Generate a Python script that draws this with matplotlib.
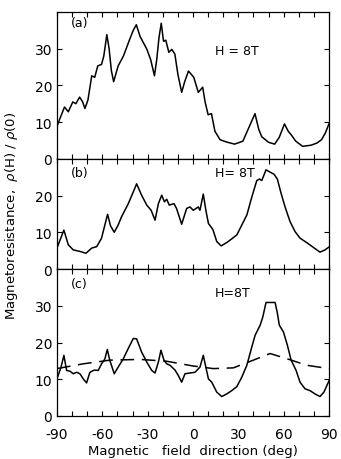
import numpy as np
import matplotlib
matplotlib.use("Agg")
import matplotlib.pyplot as plt

# panel (a)
ang_a = [-90, -88, -85, -82.5, -79.5, -77.5, -75, -73, -71.5, -69.5, -67, -65, -63, -60.5,
         -59, -57, -55.5, -54, -52.5, -49.5, -46, -42, -39.5, -37.5, -35, -30.5, -28, -25.5,
         -24, -22.5, -21, -19.5, -18, -16, -14, -12, -10, -7.5, -5.5, -3, 0.5, 3.5, 6.4, 8,
         10, 12.2, 14.5, 17.9, 22, 27.5, 33, 38, 41, 43.5, 45.5, 50, 54, 57, 60.5, 63, 65,
         68, 72.5, 78, 82, 85, 87.5, 90]
rho_a = [8.8, 11, 14.1, 12.8, 15.5, 15.0, 16.8, 15.5, 13.7, 16, 22.6, 22.2, 25.3, 25.7,
         28, 33.8, 30, 24, 21, 25.3, 28, 32.4, 35, 36.5, 33.3, 29.8, 27, 22.6,
         27, 33, 36.9, 32, 32.3, 29, 29.8, 28.5, 23, 18.1, 21, 23.9, 22.2, 18.1, 19.5, 15.5,
         12, 12.3, 7.5, 5.2, 4.6, 4.0, 4.8, 9.5, 12.3, 8, 6.0, 4.5, 4.0, 5.8, 9.5, 7.5, 6.5,
         4.8, 3.4, 3.7, 4.3, 5.2, 7, 9.6]

# panel (b)
ang_b = [-90, -85.4, -82.5, -79.2, -74.8, -70.8, -67, -63.7, -60.5, -58.3, -56.5, -54.6,
         -52.1, -49.5, -47.3, -42.8, -39.5, -37.3, -34, -30.6, -27.7, -25.1, -22.9, -20.7,
         -18.9, -17.4, -15.7, -12.6, -10.9, -7.5, -4.2, -2, 0.2, 3.5, 4.6, 6.8, 8.5, 10.2,
         13.1, 15.7, 18.6, 22.3, 25.6, 29, 32.3, 35.6, 38.9, 42.2, 44, 45.5, 48.3, 50.9,
         53.6, 55.8, 58, 60.9, 64.2, 67.5, 70.8, 75.2, 79.6, 84, 87.3, 90]
rho_b = [5.7, 10.6, 6.6, 5.2, 4.8, 4.3, 5.7, 6.1, 8.4, 12, 14.9, 11.8,
         10, 12, 14.2, 17.8, 21, 23.2, 20.1, 17.4, 16, 13.3, 17.8, 20.1,
         18.3, 19, 17.4, 17.8, 16.5, 12.2, 16.5, 16.9, 16, 16.9, 16, 20.4, 16, 12.4,
         10.8, 7.5, 6.3, 7.2, 8.2, 9.3, 12, 14.7, 19.6, 24.1, 24.5, 24.1, 27, 26.4,
         25.8, 24.5, 21, 16.9, 12.9, 10.2, 8.4, 7.2, 5.9, 4.6, 5.2, 6.0]

# panel (c), solid
ang_c = [-90, -87.3, -85.4, -83.6, -81.4, -79.2, -77, -74.8, -72.6, -70.4, -68.2, -65.3,
         -62.7, -60.5, -58.3, -56.7, -55, -52.1, -49.5, -46.2, -42.8, -39.5, -37.3, -34,
         -30.6, -27.3, -25.1, -22.9, -21.2, -19.2, -17.4, -15.2, -11.9, -9.7, -7.5, -5.3,
         -2, 1.3, 4.6, 6.8, 8.5, 10.2, 12.4, 15.7, 19, 22.3, 25.6, 29, 32.3, 35.6, 38.9,
         41.1, 44.4, 46.2, 48.3, 54.3, 55.8, 57.1, 59.8, 62.4, 64.9, 68.2, 70.8, 74.1,
         77.4, 80.7, 84, 86.6, 90]
rho_c = [10.1, 13.3, 16.5, 12.4, 12.2, 11.5, 11.9, 11.5, 10.1, 9.0, 11.9, 12.5,
         12.4, 14.2, 15.5, 18.1, 15.1, 11.5, 13.3, 15.5, 18.4, 21.1, 21, 17.4,
         14.7, 12.4, 11.7, 14.7, 17.9, 15.2, 14.2, 13.8, 12.5, 11, 9.2, 11.5,
         11.7, 11.9, 13.3, 16.5, 13.3, 10.1, 9.2, 6.5, 5.3, 6.0, 6.9, 8.0, 10.6, 13.8, 18.8,
         22, 24.7, 27, 30.9, 30.9, 28, 24.7, 22.9, 19.3, 15.2, 12.4, 9.2, 7.4,
         6.9, 6.0, 5.3, 6.5, 9.6]

# panel (c), dashed
ang_d = [-90, -72.6, -54.9, -35, -17.4, 0.2, 13.5, 26.7, 39.9, 51, 62, 75.3, 90]
rho_d = [12.9, 14.2, 15.2, 15.4, 14.9, 13.6, 12.9, 13.1, 15.2, 17, 15.6, 13.8, 12.9]

fig = plt.figure(figsize=(3.41, 4.60), dpi=100)
gs = fig.add_gridspec(3, 1, height_ratios=[40, 30, 40], hspace=0,
                      left=0.167, right=0.965, top=0.972, bottom=0.0935)
axes = [fig.add_subplot(gs[i]) for i in range(3)]

panels = [
    (ang_a, rho_a, 40, [0, 10, 20, 30], "(a)", "H = 8T"),
    (ang_b, rho_b, 30, [0, 10, 20], "(b)", "H= 8T"),
    (ang_c, rho_c, 40, [0, 10, 20, 30], "(c)", "H=8T"),
]
label_y = [0.93, 0.88, 0.90]
h_y = [0.74, 0.88, 0.84]

for i, (ax, (x, y, top, yt, tag, htxt)) in enumerate(zip(axes, panels)):
    ax.plot(x, y, color="black", lw=1.1)
    ax.set_xlim(-90, 90)
    ax.set_ylim(0, top)
    ax.set_yticks(yt)
    ax.set_xticks(np.arange(-90, 91, 10), minor=True)
    ax.set_xticks([-90, -60, -30, 0, 30, 60, 90])
    ax.tick_params(which="both", direction="in", top=True, right=True,
                   labelsize=10, length=3.5, width=0.8)
    ax.tick_params(axis="x", pad=8)
    ax.text(0.05, label_y[i], tag, transform=ax.transAxes, fontsize=9,
            va="center", ha="left")
    ax.text(0.58, h_y[i], htxt, transform=ax.transAxes, fontsize=9,
            va="center", ha="left")
    if i < 2:
        ax.tick_params(labelbottom=False)
    for s in ax.spines.values():
        s.set_linewidth(0.9)

axes[2].plot(ang_d, rho_d, color="black", lw=1.1, dashes=(9, 5))
axes[2].set_xticklabels(["-90", "-60", "-30", "0", "30", "60", "90"])
axes[2].set_xlabel("Magnetic   field  direction (deg)", fontsize=9.5, labelpad=2)
fig.text(0.035, 0.53, r"Magnetoresistance,  $\rho$(H) / $\rho$(0)", rotation=90,
         fontsize=9.5, va="center", ha="center")

fig.savefig("out.png", dpi=100)
